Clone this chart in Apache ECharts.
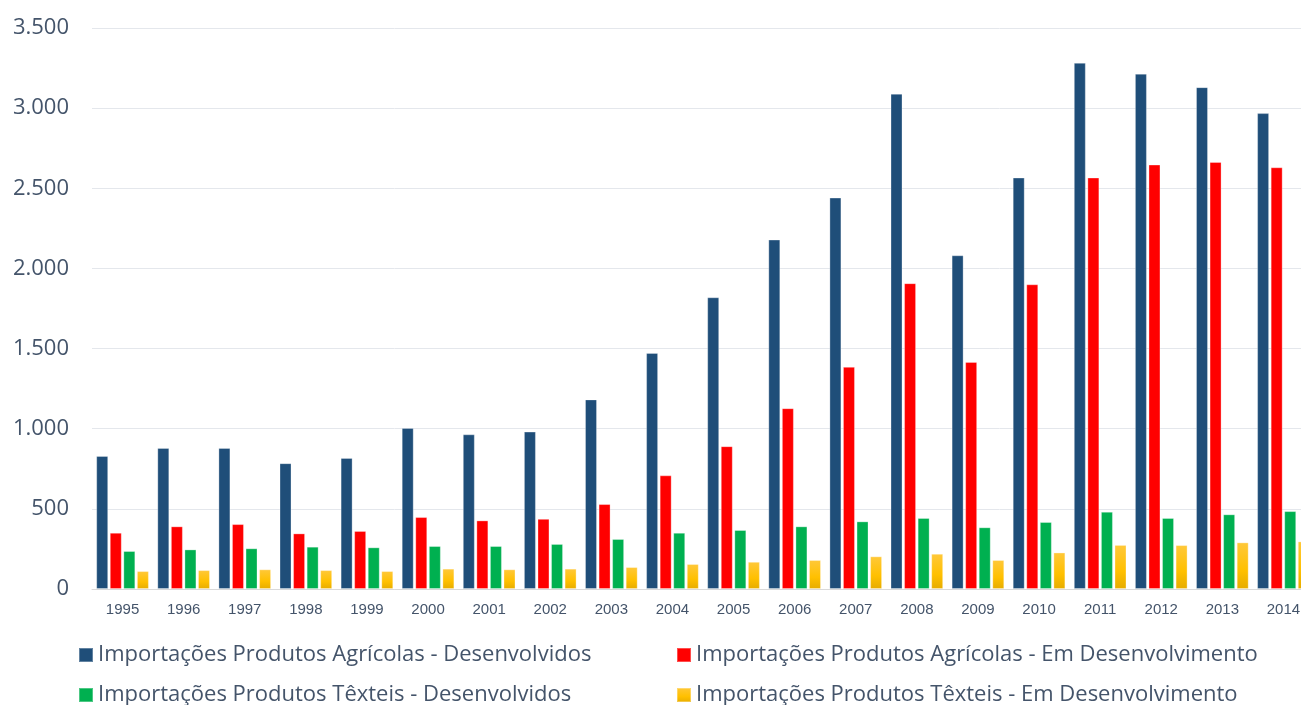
<!DOCTYPE html>
<html>
<head>
<meta charset="utf-8">
<script src="https://cdn.jsdelivr.net/npm/echarts@6/dist/echarts.min.js"></script>
<style>
html,body{margin:0;padding:0;background:#fff;}
#chart{width:1301px;height:705px;}
</style>
</head>
<body>
<div id="chart"></div>
<script>
const years = ['1995','1996','1997','1998','1999','2000','2001','2002','2003','2004','2005','2006','2007','2008','2009','2010','2011','2012','2013','2014'];
const agrDesenvolvidos = [830,880,880,785,818,1005,965,982,1183,1473,1820,2180,2442,3090,2082,2567,3283,3215,3131,2969];
const agrEmDesenvolvimento = [351,391,405,347,362,449,428,438,530,709,891,1128,1386,1908,1417,1901,2567,2648,2664,2631];
const txtDesenvolvidos = [237,247,254,264,260,268,268,281,312,351,368,391,422,443,385,418,482,443,466,486];
const txtEmDesenvolvimento = [112,118,123,118,112,127,123,127,137,156,170,181,204,220,181,228,275,274,291,297];
const seriesNames = [
  'Importações Produtos Agrícolas - Desenvolvidos',
  'Importações Produtos Agrícolas - Em Desenvolvimento',
  'Importações Produtos Têxteis - Desenvolvidos',
  'Importações Produtos Têxteis - Em Desenvolvimento'
];
const yTicks = [0,500,1000,1500,2000,2500,3000,3500];

const chart = echarts.init(document.getElementById('chart'));
const textColor = '#44546a';
const border = 'rgba(255,255,255,0.3)';
function fmt(v){ return v >= 1000 ? Math.floor(v/1000) + '.' + String(v%1000).padStart(3,'0') : String(v); }

function legendItem(name, left, top){
  return { data: [name], left: left, top: top, padding: 0,
    itemWidth: 14, itemHeight: 14, icon: 'rect',
    textStyle: { fontFamily: 'Open Sans', fontSize: 22, color: textColor, padding: [0,0,0,0] } };
}

chart.setOption({
  animation: false,
  grid: { left: 92, width: 1222, top: 28, height: 561, containLabel: false, outerBoundsMode: 'none' },
  legend: [
    legendItem(seriesNames[0], 78, 644),
    legendItem(seriesNames[2], 78, 684),
    legendItem(seriesNames[1], 676, 644),
    legendItem(seriesNames[3], 676, 684)
  ],
  xAxis: {
    type: 'category', data: years,
    axisLine: { show: true, lineStyle: { color: '#d9d9d9', width: 1 } },
    axisTick: { show: false },
    axisLabel: { fontFamily: 'Liberation Sans Narrow, Liberation Sans, sans-serif', fontSize: 15, color: textColor, margin: 13 }
  },
  yAxis: {
    type: 'value', min: 0, max: 3500, interval: 500,
    axisLine: { show: false }, axisTick: { show: false },
    splitLine: { lineStyle: { color: '#e4e7ec', width: 1 } },
    axisLabel: { fontFamily: 'Open Sans', fontSize: 22, color: textColor, margin: 23, formatter: fmt }
  },
  series: [
    { name: seriesNames[0], type: 'bar', data: agrDesenvolvidos, barWidth: 12, barGap: '13%',
      itemStyle: { color: '#1f4e79', borderColor: border, borderWidth: 1 } },
    { name: seriesNames[1], type: 'bar', data: agrEmDesenvolvimento, barWidth: 12, barGap: '13%',
      itemStyle: { color: '#ff0000', borderColor: border, borderWidth: 1 } },
    { name: seriesNames[2], type: 'bar', data: txtDesenvolvidos, barWidth: 12, barGap: '13%',
      itemStyle: { color: '#00b050', borderColor: border, borderWidth: 1 } },
    { name: seriesNames[3], type: 'bar', data: txtEmDesenvolvimento, barWidth: 12, barGap: '13%',
      itemStyle: { color: new echarts.graphic.LinearGradient(0,0,0,1,[
        {offset:0,color:'#ffc83a'},{offset:0.6,color:'#ffc000'},{offset:1,color:'#e6ac00'}]),
        borderColor: border, borderWidth: 1 } }
  ]
});
</script>
</body>
</html>
